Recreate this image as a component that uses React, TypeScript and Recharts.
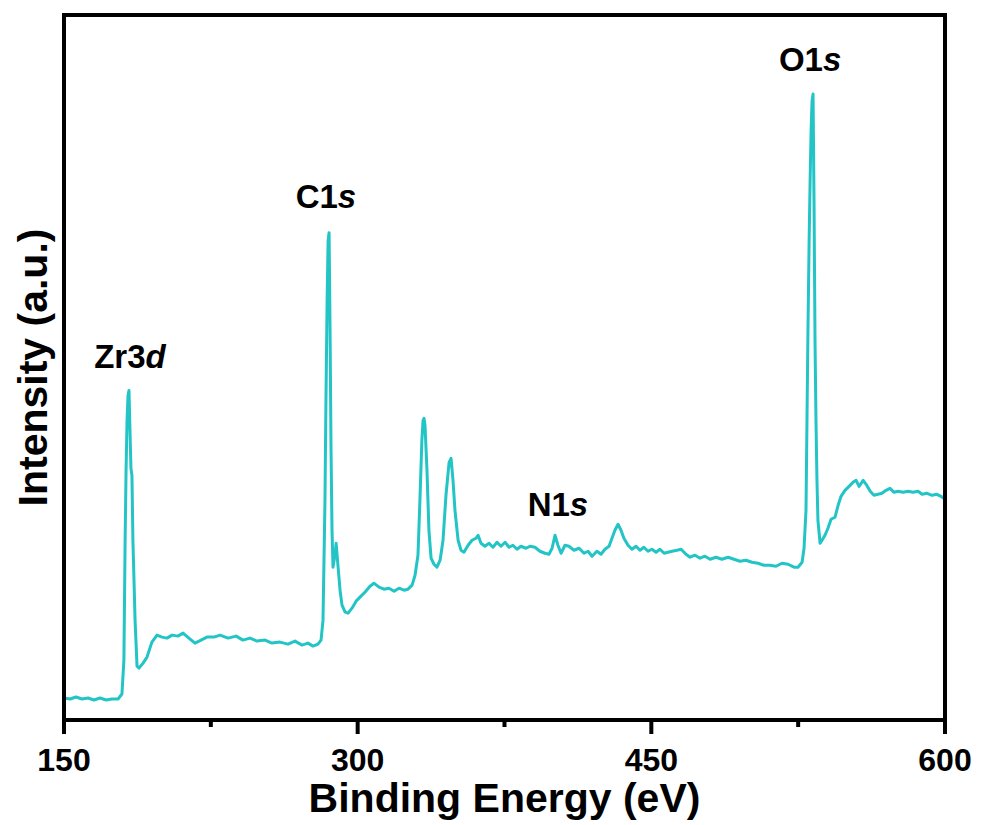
import { LineChart, Line, XAxis, YAxis, ReferenceDot } from 'recharts'

// XPS survey spectrum, binding energy (eV) vs intensity (a.u.)
const ENERGY = [
  150.0, 153.1, 156.1, 159.2, 162.3, 165.3, 168.4, 171.5, 174.5, 177.6,
  179.6, 180.6, 181.2, 181.7, 182.2, 182.7, 183.2, 183.7, 184.2, 184.7,
  185.2, 186.3, 187.3, 188.3, 190.4, 192.4, 194.9, 197.5, 200.1, 202.6,
  205.2, 208.2, 210.8, 213.8, 216.9, 220.0, 223.0, 226.6, 229.7, 233.8,
  237.9, 241.4, 245.0, 248.6, 252.7, 256.2, 260.3, 264.4, 268.0, 271.6,
  274.6, 277.2, 279.7, 281.3, 282.3, 283.3, 283.8, 284.4, 284.9, 285.4,
  285.9, 286.4, 286.9, 287.4, 288.4, 289.0, 290.0, 291.0, 292.0, 293.6,
  295.1, 297.1, 299.2, 301.2, 303.7, 306.3, 308.3, 310.9, 313.4, 316.0,
  318.6, 321.1, 323.7, 325.7, 327.8, 329.3, 330.8, 331.8, 332.8, 333.4,
  333.9, 334.4, 335.4, 336.4, 337.5, 339.0, 340.5, 342.1, 343.6, 345.1,
  346.7, 347.7, 348.7, 349.7, 351.3, 352.8, 354.3, 356.4, 358.4, 360.4,
  361.5, 363.0, 365.0, 367.1, 369.1, 371.2, 373.2, 375.3, 377.3, 379.3,
  381.4, 383.4, 386.0, 388.0, 390.6, 393.1, 395.7, 397.7, 399.3, 400.8,
  402.3, 403.9, 405.9, 407.9, 410.5, 413.1, 415.6, 417.7, 419.7, 422.2,
  424.3, 426.3, 428.4, 429.9, 431.4, 433.0, 434.5, 436.0, 438.1, 440.1,
  442.2, 444.2, 446.2, 448.3, 450.3, 452.4, 454.4, 456.5, 458.5, 460.6,
  463.1, 465.2, 467.7, 469.8, 472.3, 474.9, 477.4, 480.0, 483.0, 486.1,
  489.2, 492.2, 495.3, 498.3, 501.4, 504.5, 507.5, 510.6, 513.7, 516.7,
  519.8, 522.9, 524.9, 527.0, 528.0, 529.0, 529.5, 530.0, 530.6, 531.1,
  531.6, 532.1, 532.6, 533.1, 533.6, 534.1, 534.6, 535.1, 536.2, 537.2,
  538.7, 540.2, 541.8, 543.8, 545.4, 546.9, 548.9, 551.0, 553.0, 554.6,
  556.1, 558.2, 559.7, 561.8, 563.7, 565.8, 567.8, 569.9, 571.9, 574.0,
  576.0, 578.6, 581.1, 583.7, 586.2, 588.3, 590.8, 593.4, 595.9, 597.9,
  600.0,
]

const INTENSITY = [
  22, 21, 23, 21, 22, 20, 22, 20, 21, 21,
  26, 60, 177, 250, 300, 325, 330, 290, 252, 245,
  180, 100, 54, 52, 57, 63, 78, 85, 83, 82,
  85, 84, 87, 82, 77, 80, 83, 83, 85, 82,
  84, 80, 82, 79, 80, 77, 78, 76, 79, 75,
  77, 74, 76, 80, 100, 220, 320, 420, 480, 488,
  390, 270, 190, 153, 165, 177, 153, 130, 115, 108,
  107, 112, 119, 123, 128, 134, 137, 133, 131, 132,
  129, 132, 130, 131, 135, 145, 165, 220, 280, 300,
  302, 295, 250, 190, 162, 156, 153, 160, 180, 225,
  258, 262, 240, 210, 180, 170, 168, 175, 180, 182,
  185, 177, 174, 177, 173, 178, 174, 178, 173, 175,
  171, 174, 172, 174, 173, 169, 167, 166, 172, 185,
  175, 167, 175, 174, 170, 172, 167, 169, 164, 169,
  166, 171, 174, 182, 190, 196, 190, 182, 175, 171,
  174, 170, 173, 169, 171, 168, 171, 167, 168, 169,
  170, 171, 166, 163, 165, 162, 164, 161, 163, 161,
  163, 161, 159, 160, 158, 157, 155, 155, 154, 157,
  156, 153, 153, 158, 172, 210, 300, 390, 480, 540,
  590, 620, 627, 520, 380, 300, 240, 200, 177, 180,
  185, 192, 201, 203, 215, 224, 230, 234, 238, 240,
  234, 240, 236, 229, 225, 226, 227, 230, 232, 228,
  229, 228, 229, 228, 229, 226, 227, 225, 226, 224,
  221,
]

const ENERGY_TICKS = [150, 225, 300, 375, 450, 525, 600]
const LABELED_TICKS = [150, 300, 450, 600]

// peak labels: element/orbital with italic suffix, anchored at (energy, intensity)
const PEAK_NAMES = ['Zr3', 'C1', 'N1', 'O1']
const PEAK_SUFFIX = ['d', 's', 's', 's']
const PEAK_ENERGY = [183.7, 283.8, 402.3, 531.1]
const PEAK_LEVEL = [353, 513, 204, 650]

const data = ENERGY.map((e, i) => ({ energy: e, intensity: INTENSITY[i] }))

const FONT = '"Liberation Sans", Arial, sans-serif'
const LINE_COLOR = '#22c4c6'

function EnergyTick({ x, y, payload }: any) {
  const labeled = LABELED_TICKS.includes(payload.value)
  return (
    <g>
      <line x1={x} y1={y} x2={x} y2={y + (labeled ? 14 : 7)} stroke='#000' strokeWidth={4} />
      {labeled && (
        <text x={x} y={y + 51} textAnchor='middle' fontFamily={FONT} fontWeight='bold' fontSize={32} fill='#000'>
          {payload.value}
        </text>
      )}
    </g>
  )
}

function XTitle({ viewBox }: any) {
  const cx = viewBox.x + viewBox.width / 2
  return (
    <text x={cx} y={viewBox.y + 92} textAnchor='middle' fontFamily={FONT} fontWeight='bold' fontSize={41} fill='#000'>
      Binding Energy (eV)
    </text>
  )
}

function YTitle({ viewBox }: any) {
  const cx = viewBox.x + viewBox.width - 17
  const cy = viewBox.y + viewBox.height / 2
  return (
    <text x={cx} y={cy} transform={`rotate(-90 ${cx} ${cy})`} textAnchor='middle' fontFamily={FONT}
      fontWeight='bold' fontSize={41} fill='#000'>
      Intensity (a.u.)
    </text>
  )
}

const frame = { stroke: '#000', strokeWidth: 4, strokeLinecap: 'square' as const }

export default function App() {
  return (
    <div style={{ position: 'absolute', left: 0, top: 0, background: '#fff' }}>
      <LineChart width={981} height={825} data={data} margin={{ top: 14, right: 35, bottom: 0, left: 63 }}>
        <XAxis
          dataKey='energy'
          type='number'
          domain={[150, 600]}
          ticks={ENERGY_TICKS}
          interval={0}
          height={105}
          axisLine={frame}
          tickLine={false}
          tickSize={0}
          tickMargin={0}
          tick={<EnergyTick />}
          label={{ content: <XTitle /> }}
        />
        <XAxis xAxisId='top' orientation='top' type='number' domain={[150, 600]} height={1}
          axisLine={frame} tick={false} tickLine={false} />
        <YAxis type='number' domain={[0, 706]} width={1} axisLine={frame} tick={false} tickLine={false}
          label={{ content: <YTitle /> }} />
        <YAxis yAxisId='right' orientation='right' type='number' domain={[0, 706]} width={1}
          axisLine={frame} tick={false} tickLine={false} />
        <Line
          type='linear'
          dataKey='intensity'
          stroke={LINE_COLOR}
          strokeWidth={3}
          dot={false}
          isAnimationActive={false}
          strokeLinejoin='round'
        />
        {PEAK_NAMES.map((name, i) => (
          <ReferenceDot
            key={name}
            x={PEAK_ENERGY[i]}
            y={PEAK_LEVEL[i]}
            ifOverflow='visible'
            shape={(p: any) => (
              <text x={p.cx} y={p.cy} textAnchor='middle' fontFamily={FONT} fontWeight='bold' fontSize={33} fill='#000'>
                {name}
                <tspan fontStyle='italic'>{PEAK_SUFFIX[i]}</tspan>
              </text>
            )}
          />
        ))}
      </LineChart>
    </div>
  )
}
